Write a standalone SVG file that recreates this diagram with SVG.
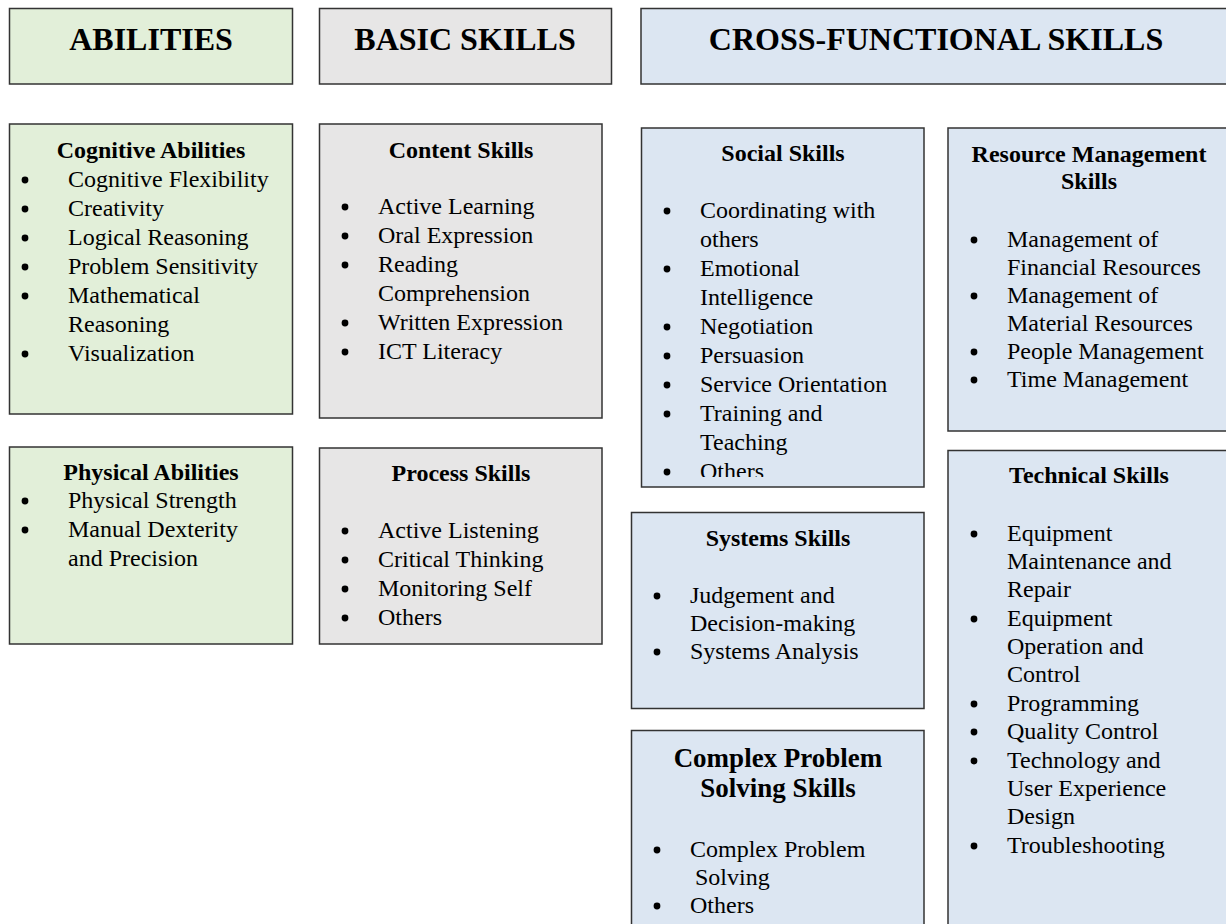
<svg xmlns="http://www.w3.org/2000/svg" width="1226" height="924" viewBox="0 0 1226 924">
  <style>
    .box { stroke: #333333; stroke-width: 1.5; }
    .green { fill: #e2efd9; }
    .gray { fill: #e7e6e6; }
    .blue { fill: #dce6f2; }
    .head { font-family: "Liberation Serif", "Times New Roman", serif; font-weight: bold; font-size: 32px; fill: #000; text-anchor: middle; }
    .title { font-family: "Liberation Serif", "Times New Roman", serif; font-weight: bold; font-size: 24px; fill: #000; text-anchor: middle; }
    .title-lg { font-family: "Liberation Serif", "Times New Roman", serif; font-weight: bold; font-size: 27px; fill: #000; text-anchor: middle; }
    .item { font-family: "Liberation Serif", "Times New Roman", serif; font-size: 24px; fill: #000; }
    .dot { fill: #000; }
  </style>
  <defs>
    <circle id="bullet" r="3.4" class="dot"/>
    <clipPath id="social-clip">
      <rect x="642" y="128" width="282" height="349"/>
    </clipPath>
  </defs>

  <!-- Column headers -->
  <g id="abilities-header">
    <rect class="box green" x="9.5" y="8.5" width="283" height="75.5"/>
    <text class="head" x="151" y="50">ABILITIES</text>
  </g>
  <g id="basic-skills-header">
    <rect class="box gray" x="319.5" y="8.5" width="292" height="75.5"/>
    <text class="head" x="465" y="50">BASIC SKILLS</text>
  </g>
  <g id="cross-functional-header">
    <rect class="box blue" x="641" y="8.5" width="592" height="75.5"/>
    <text class="head" x="936" y="50">CROSS-FUNCTIONAL SKILLS</text>
  </g>

  <!-- Abilities column -->
  <g id="cognitive-abilities">
    <rect class="box green" x="9.5" y="124" width="283" height="290"/>
    <text class="title" x="151" y="158">Cognitive Abilities</text>
    <use href="#bullet" x="25" y="180"/>
    <text class="item" x="68" y="187">Cognitive Flexibility</text>
    <use href="#bullet" x="25" y="209"/>
    <text class="item" x="68" y="216">Creativity</text>
    <use href="#bullet" x="25" y="238"/>
    <text class="item" x="68" y="245">Logical Reasoning</text>
    <use href="#bullet" x="25" y="267"/>
    <text class="item" x="68" y="274">Problem Sensitivity</text>
    <use href="#bullet" x="25" y="296"/>
    <text class="item" x="68" y="303">Mathematical</text>
    <text class="item" x="68" y="332">Reasoning</text>
    <use href="#bullet" x="25" y="354"/>
    <text class="item" x="68" y="361">Visualization</text>
  </g>
  <g id="physical-abilities">
    <rect class="box green" x="9.5" y="447" width="283" height="197"/>
    <text class="title" x="151" y="480">Physical Abilities</text>
    <use href="#bullet" x="25" y="501"/>
    <text class="item" x="68" y="508">Physical Strength</text>
    <use href="#bullet" x="25" y="530"/>
    <text class="item" x="68" y="537">Manual Dexterity</text>
    <text class="item" x="68" y="566">and Precision</text>
  </g>

  <!-- Basic skills column -->
  <g id="content-skills">
    <rect class="box gray" x="319.5" y="124" width="282.5" height="294"/>
    <text class="title" x="461" y="158">Content Skills</text>
    <use href="#bullet" x="345" y="207"/>
    <text class="item" x="378" y="214">Active Learning</text>
    <use href="#bullet" x="345" y="236"/>
    <text class="item" x="378" y="243">Oral Expression</text>
    <use href="#bullet" x="345" y="265"/>
    <text class="item" x="378" y="272">Reading</text>
    <text class="item" x="378" y="301">Comprehension</text>
    <use href="#bullet" x="345" y="323"/>
    <text class="item" x="378" y="330">Written Expression</text>
    <use href="#bullet" x="345" y="352"/>
    <text class="item" x="378" y="359">ICT Literacy</text>
  </g>
  <g id="process-skills">
    <rect class="box gray" x="319.5" y="448" width="282.5" height="196"/>
    <text class="title" x="461" y="481">Process Skills</text>
    <use href="#bullet" x="345" y="531"/>
    <text class="item" x="378" y="538">Active Listening</text>
    <use href="#bullet" x="345" y="560"/>
    <text class="item" x="378" y="567">Critical Thinking</text>
    <use href="#bullet" x="345" y="589"/>
    <text class="item" x="378" y="596">Monitoring Self</text>
    <use href="#bullet" x="345" y="618"/>
    <text class="item" x="378" y="625">Others</text>
  </g>

  <!-- Cross-functional column -->
  <g id="social-skills">
    <rect class="box blue" x="641.5" y="128" width="282.5" height="359"/>
    <text class="title" x="783" y="161">Social Skills</text>
    <g clip-path="url(#social-clip)">
      <use href="#bullet" x="667" y="211"/>
      <text class="item" x="700" y="218">Coordinating with</text>
      <text class="item" x="700" y="247">others</text>
      <use href="#bullet" x="667" y="269"/>
      <text class="item" x="700" y="276">Emotional</text>
      <text class="item" x="700" y="305">Intelligence</text>
      <use href="#bullet" x="667" y="327"/>
      <text class="item" x="700" y="334">Negotiation</text>
      <use href="#bullet" x="667" y="356"/>
      <text class="item" x="700" y="363">Persuasion</text>
      <use href="#bullet" x="667" y="385"/>
      <text class="item" x="700" y="392">Service Orientation</text>
      <use href="#bullet" x="667" y="414"/>
      <text class="item" x="700" y="421">Training and</text>
      <text class="item" x="700" y="450">Teaching</text>
      <use href="#bullet" x="667" y="472"/>
      <text class="item" x="700" y="479">Others</text>
    </g>
  </g>
  <g id="systems-skills">
    <rect class="box blue" x="631.5" y="512.5" width="292.5" height="196"/>
    <text class="title" x="778" y="546">Systems Skills</text>
    <use href="#bullet" x="657" y="596"/>
    <text class="item" x="690" y="603">Judgement and</text>
    <text class="item" x="690" y="631">Decision-making</text>
    <use href="#bullet" x="657" y="652"/>
    <text class="item" x="690" y="659">Systems Analysis</text>
  </g>
  <g id="complex-problem-solving-skills">
    <rect class="box blue" x="631.5" y="730.5" width="292.5" height="200"/>
    <text class="title-lg" x="778" y="767">Complex Problem</text>
    <text class="title-lg" x="778" y="797">Solving Skills</text>
    <use href="#bullet" x="657" y="850"/>
    <text class="item" x="690" y="857">Complex Problem</text>
    <text class="item" x="695" y="885">Solving</text>
    <use href="#bullet" x="657" y="906"/>
    <text class="item" x="690" y="913">Others</text>
  </g>
  <g id="resource-management-skills">
    <rect class="box blue" x="948" y="128" width="285" height="303"/>
    <text class="title" x="1089" y="162">Resource Management</text>
    <text class="title" x="1089" y="189">Skills</text>
    <use href="#bullet" x="974" y="240"/>
    <text class="item" x="1007" y="247">Management of</text>
    <text class="item" x="1007" y="275">Financial Resources</text>
    <use href="#bullet" x="974" y="296"/>
    <text class="item" x="1007" y="303">Management of</text>
    <text class="item" x="1007" y="331">Material Resources</text>
    <use href="#bullet" x="974" y="352"/>
    <text class="item" x="1007" y="359">People Management</text>
    <use href="#bullet" x="974" y="380"/>
    <text class="item" x="1007" y="387">Time Management</text>
  </g>
  <g id="technical-skills">
    <rect class="box blue" x="948" y="450.5" width="285" height="480"/>
    <text class="title" x="1089" y="483">Technical Skills</text>
    <use href="#bullet" x="974" y="534"/>
    <text class="item" x="1007" y="541">Equipment</text>
    <text class="item" x="1007" y="569">Maintenance and</text>
    <text class="item" x="1007" y="597">Repair</text>
    <use href="#bullet" x="974" y="619"/>
    <text class="item" x="1007" y="626">Equipment</text>
    <text class="item" x="1007" y="654">Operation and</text>
    <text class="item" x="1007" y="682">Control</text>
    <use href="#bullet" x="974" y="704"/>
    <text class="item" x="1007" y="711">Programming</text>
    <use href="#bullet" x="974" y="732"/>
    <text class="item" x="1007" y="739">Quality Control</text>
    <use href="#bullet" x="974" y="761"/>
    <text class="item" x="1007" y="768">Technology and</text>
    <text class="item" x="1007" y="796">User Experience</text>
    <text class="item" x="1007" y="824">Design</text>
    <use href="#bullet" x="974" y="846"/>
    <text class="item" x="1007" y="853">Troubleshooting</text>
  </g>
</svg>
